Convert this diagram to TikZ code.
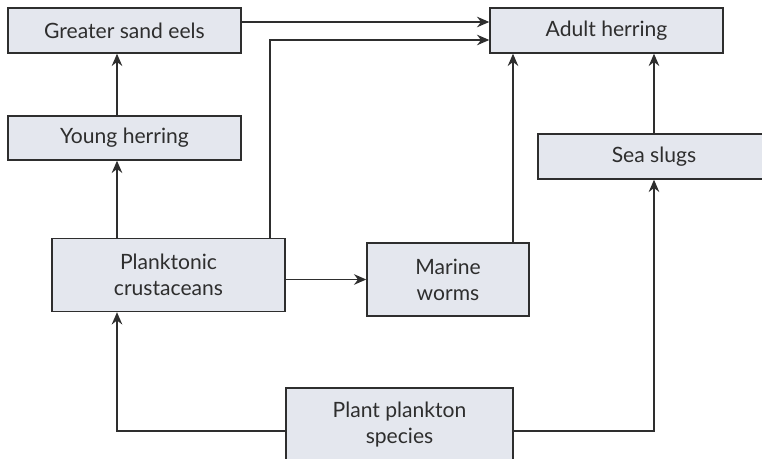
\documentclass[tikz,border=0pt]{standalone}
\usepackage{fontspec}
\setmainfont{Lato}
\usepackage{tikz}
\usetikzlibrary{arrows.meta,positioning}
\definecolor{boxfill}{HTML}{E4E7EE}
\definecolor{ink}{HTML}{2E2E2E}

\begin{document}
\begin{tikzpicture}
[
	box/.style = {rectangle, draw=ink, fill=boxfill, line width=0.8pt, inner sep=2pt, align=center, text=ink, font=\fontsize{12}{14.8}\selectfont},
	arrow/.style = {-{Stealth[length=7pt,width=6pt]}, draw=ink, line width=0.8pt},
	line/.style = {-, draw=ink, line width=0.8pt}
]
\useasboundingbox (0,0) rectangle (15.24,9.18);

\node[box, minimum width=4.66cm, minimum height=0.9cm] (eels) at (2.49,8.57) {Greater sand eels};
\node[box, minimum width=4.66cm, minimum height=0.88cm] (young) at (2.49,6.42) {Young herring};
\node[box, minimum width=4.66cm, minimum height=1.46cm] (crust) at (3.37,3.68) {Planktonic\\crustaceans};
\node[box, minimum width=3.24cm, minimum height=1.46cm] (worms) at (8.96,3.59) {Marine\\worms};
\node[box, minimum width=4.54cm, minimum height=1.48cm] (plant) at (7.99,0.68) {Plant plankton\\species};
\node[box, minimum width=4.66cm, minimum height=0.9cm] (adult) at (12.13,8.57) {Adult herring};
\node[box, minimum width=4.64cm, minimum height=0.9cm] (slugs) at (13.08,6.05) {Sea slugs};

\draw[arrow] ([xshift=-0.15cm] young.north) -- ([xshift=-0.15cm] eels.south);
\draw[arrow] ([xshift=-1.03cm] crust.north) -- ([xshift=-1.03cm] crust.north |- young.south);
\draw[arrow] ([yshift=-0.12cm] plant.west) -| ([xshift=-1.03cm] crust.south);
\draw[arrow] ([yshift=-0.12cm] plant.east) -| (slugs.south);
\draw[arrow] (slugs.north) -- (slugs.north |- adult.south);
\draw[arrow] ([xshift=1.3cm] worms.north) -- ([xshift=1.3cm] worms.north |- adult.south);
\draw[arrow] (crust.east |- worms.west) -- (worms.west);
\draw[arrow] ([yshift=0.17cm] eels.east) -- ([yshift=0.17cm] adult.west);
\draw[arrow] ([xshift=2.03cm] crust.north) |- ([yshift=-0.19cm] adult.west);

\end{tikzpicture}
\end{document}
